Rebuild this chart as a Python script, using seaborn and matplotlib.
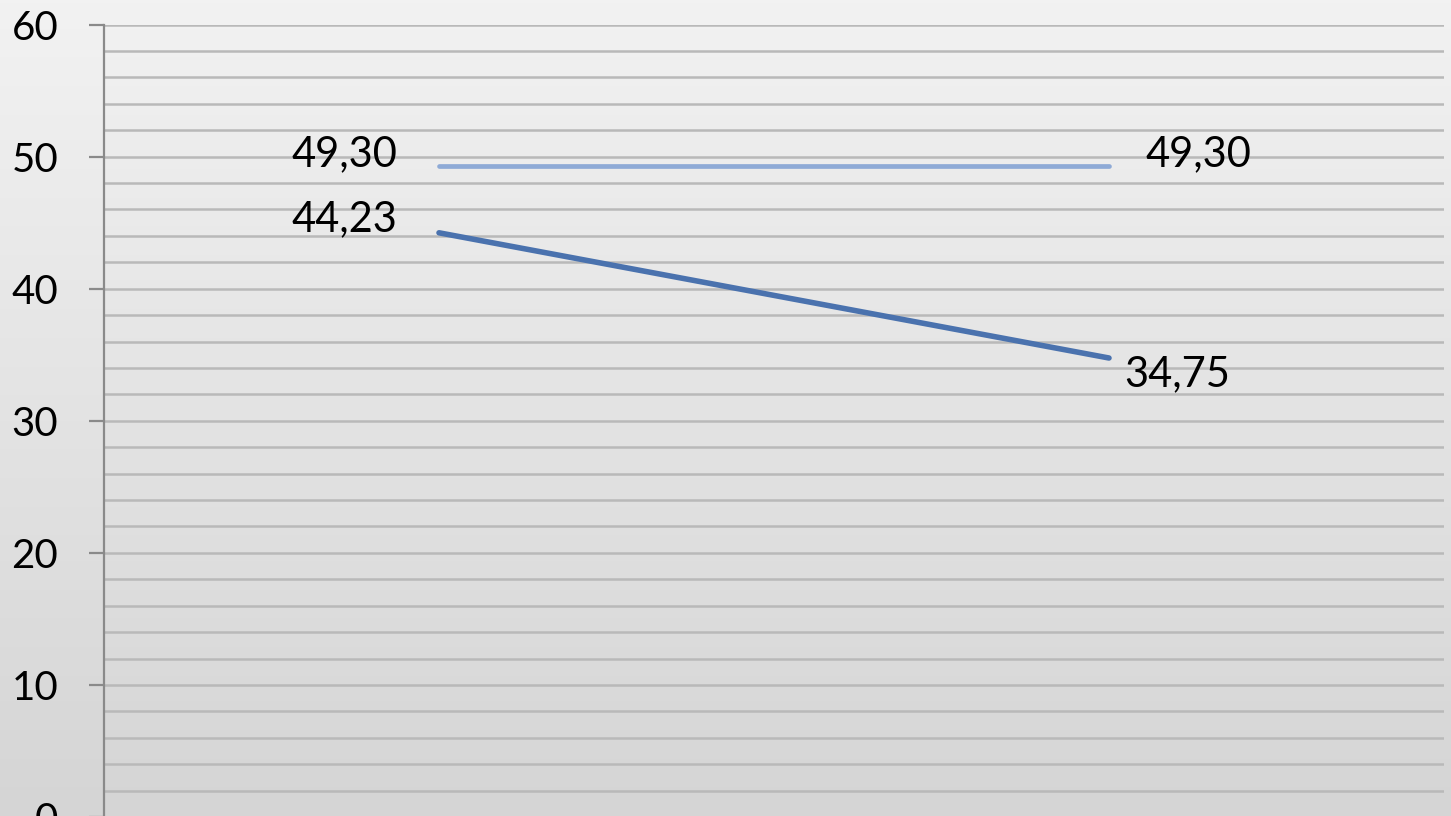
import numpy as np
import pandas as pd
import seaborn as sns
import matplotlib.pyplot as plt

sns.set_theme(style='white')
plt.rcParams['font.family'] = ['Lato', 'DejaVu Sans']

# data
categories = [0, 1]
series_light = [49.30, 49.30]
series_dark = [44.23, 34.75]
y_ticks = [0, 10, 20, 30, 40, 50, 60]

df = pd.DataFrame({
    'x': categories * 2,
    'y': series_light + series_dark,
    'series': ['light'] * 2 + ['dark'] * 2,
})
colors = {'light': '#8eaad6', 'dark': '#4a72ae'}
widths = {'light': 3.4, 'dark': 4.0}

fig = plt.figure(figsize=(14.51, 8.16), dpi=100)

# gradient background
bg = fig.add_axes([0, 0, 1, 1], zorder=-10)
grad = np.linspace(0, 1, 256).reshape(-1, 1)
bg.imshow(grad, aspect='auto', cmap=plt.matplotlib.colors.LinearSegmentedColormap.from_list(
    'bg', ['#f2f2f2', '#d5d5d5']), extent=[0, 1, 0, 1], origin='upper')
bg.axis('off')

ax = fig.add_axes([104 / 1451, -1 / 816, 1340 / 1451, 792.5 / 816])
ax.patch.set_alpha(0)

# grid every 2 units
for v in np.arange(2, 61, 2):
    ax.axhline(v, color='#b9b9b9', lw=1.8, zorder=0)

for name in ['light', 'dark']:
    sns.lineplot(data=df[df['series'] == name], x='x', y='y', color=colors[name], ax=ax,
                 legend=False, linewidth=widths[name], zorder=3,
                 solid_capstyle='round')

ax.set_xlim(-0.5, 1.5)
ax.set_ylim(0, 60)
ax.set_yticks(y_ticks)
ax.set_yticklabels([str(t) for t in y_ticks], fontsize=29)
ax.set_xticks([])
ax.set_xlabel('')
ax.set_ylabel('')
ax.tick_params(axis='y', length=11, width=1.6, color='#8a8a8a', labelcolor='black',
               pad=22, direction='out', left=True)
for s in ['top', 'right', 'bottom']:
    ax.spines[s].set_visible(False)
ax.spines['left'].set_color('#8a8a8a')
ax.spines['left'].set_linewidth(1.6)


def fmt(v):
    return f'{v:.2f}'.replace('.', ',')


lab = dict(fontsize=30, color='black', textcoords='offset pixels')
ax.annotate(fmt(series_light[0]), (categories[0], series_light[0]), xytext=(-42, 12),
            ha='right', va='center', **lab)
ax.annotate(fmt(series_light[1]), (categories[1], series_light[1]), xytext=(36, 12),
            ha='left', va='center', **lab)
ax.annotate(fmt(series_dark[0]), (categories[0], series_dark[0]), xytext=(-42, 14),
            ha='right', va='center', **lab)
ax.annotate(fmt(series_dark[1]), (categories[1], series_dark[1]), xytext=(15, -16),
            ha='left', va='center', **lab)

fig.savefig('out.png', dpi=100)
